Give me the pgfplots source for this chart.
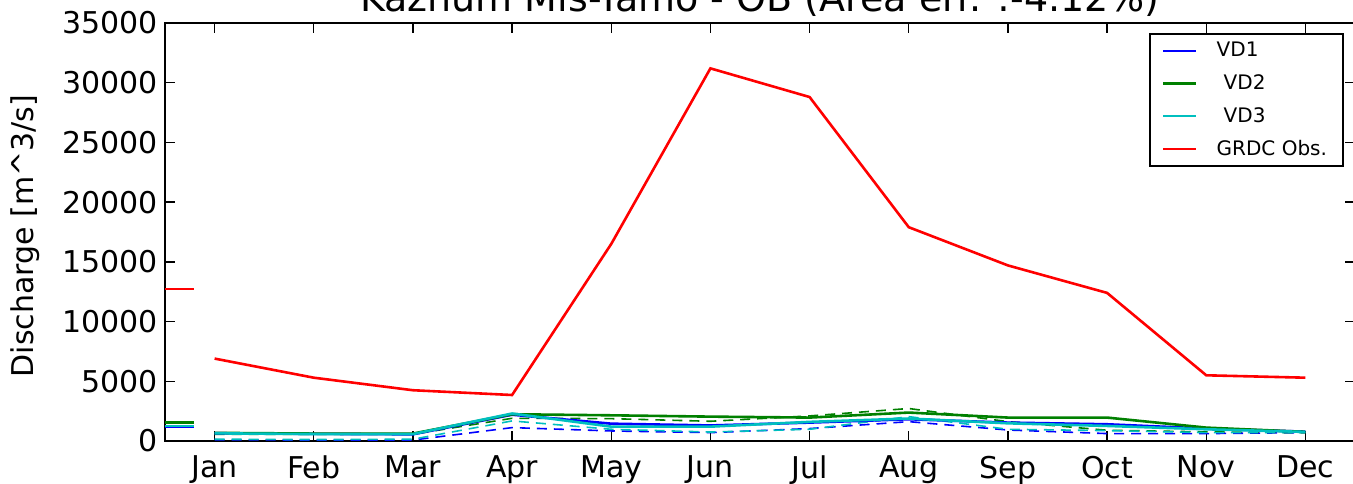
\documentclass[border=0pt]{standalone}
\usepackage{pgfplots}
\pgfplotsset{compat=1.18}
\usepackage{fontspec}
\setmainfont{DejaVu Sans}
\definecolor{mblue}{rgb}{0,0,1}
\definecolor{mgreen}{rgb}{0,0.5,0}
\definecolor{mcyan}{rgb}{0,0.75,0.75}
\definecolor{mred}{rgb}{1,0,0}
\begin{document}
\begin{tikzpicture}
\begin{axis}[
  scale only axis, width=595pt, height=209pt,
  xmin=0.5, xmax=12.5, ymin=0, ymax=35000,
  xtick={1,2,3,4,5,6,7,8,9,10,11,12},
  xticklabels={Jan,Feb,Mar,Apr,May,Jun,Jul,Aug,Sep,Oct,Nov,Dec},
  ytick={0,5000,10000,15000,20000,25000,30000,35000},
  scaled y ticks=false,
  /pgf/number format/assume math mode=true,
  /pgf/number format/1000 sep={},
  tick align=inside,
  xtick pos=both, ytick pos=both,
  major tick length=5pt,
  tick style={black, line width=0.7pt},
  axis line style={line width=1.3pt},
  tick label style={font=\fontsize{15}{18}\selectfont},
  xticklabel style={yshift=-4pt},
  clip=false,
  legend style={at={(rel axis cs:1,1)}, anchor=north east, xshift=-5.5pt, yshift=-5pt,
    draw=black, line width=1pt, font=\fontsize{10}{12}\selectfont,
    row sep=3.5pt, inner xsep=6pt, inner ysep=2pt},
  legend cell align=left,
  legend image code/.code={\draw[#1, line width=1.1pt] (0pt,0pt) -- (16.5pt,0pt); \path (24pt,0pt);},
]
% annual means at left
\addplot[mred, line width=1.1pt, forget plot] coordinates {(0.5,12700) (0.79,12700)};
\addplot[mgreen, line width=1.1pt, forget plot] coordinates {(0.5,1540) (0.79,1540)};
\addplot[mblue, line width=1.1pt, forget plot] coordinates {(0.5,1220) (0.79,1220)};
\addplot[mcyan, line width=1.1pt, forget plot] coordinates {(0.5,1270) (0.79,1270)};
% dashed series
\addplot[mblue, line width=0.8pt, dash pattern=on 5pt off 3.5pt, forget plot] coordinates {
 (1,100) (2,80) (3,80) (4,1120) (5,840) (6,700) (7,1040) (8,1620) (9,920) (10,620) (11,620) (12,700)};
\addplot[mgreen, line width=0.8pt, dash pattern=on 5pt off 3.5pt, forget plot] coordinates {
 (1,560) (2,560) (3,560) (4,1900) (5,1870) (6,1650) (7,2100) (8,2720) (9,1620) (10,900) (11,760) (12,700)};
\addplot[mcyan, line width=0.8pt, dash pattern=on 5pt off 3.5pt, forget plot] coordinates {
 (1,150) (2,120) (3,150) (4,1680) (5,980) (6,750) (7,980) (8,2040) (9,980) (10,870) (11,700) (12,700)};
% solid series
\addplot[mblue, line width=1.3pt] coordinates {
 (1,650) (2,600) (3,560) (4,2200) (5,1450) (6,1300) (7,1540) (8,1820) (9,1540) (10,1400) (11,1040) (12,780)};
\addlegendentry{VD1}
\addplot[mgreen, line width=1.3pt] coordinates {
 (1,680) (2,620) (3,620) (4,2240) (5,2150) (6,2040) (7,1960) (8,2380) (9,1960) (10,1960) (11,1120) (12,760)};
\addlegendentry{\hspace{3.5pt}VD2}
\addplot[mcyan, line width=1.3pt] coordinates {
 (1,640) (2,580) (3,580) (4,2300) (5,1200) (6,1200) (7,1600) (8,1880) (9,1480) (10,1260) (11,980) (12,760)};
\addlegendentry{\hspace{3.5pt}VD3}
\addplot[mred, line width=1.3pt] coordinates {
 (1,6900) (2,5300) (3,4250) (4,3850) (5,16500) (6,31200) (7,28800) (8,17900) (9,14700) (10,12400) (11,5500) (12,5300)};
\addlegendentry{GRDC Obs.}
\node[anchor=base, font=\fontsize{19}{23}\selectfont] at (rel axis cs:0.5,1) [yshift=5.5pt] {Kazhum Mis-Yamo - OB (Area err. :-4.12\%)};
\node[font=\fontsize{15}{18}\selectfont] at (rel axis cs:0,0.5) [xshift=-70pt, yshift=-2pt, rotate=90] {Discharge [m\^{}3/s]};
\coordinate (bbsw) at (rel axis cs:0,0);
\coordinate (bbne) at (rel axis cs:1,1);
\end{axis}
\pgfresetboundingbox
\path[use as bounding box] ([xshift=-82.5pt, yshift=-21.5pt]bbsw) rectangle ([xshift=-1pt, yshift=11.5pt]bbne);
\end{tikzpicture}
\end{document}
